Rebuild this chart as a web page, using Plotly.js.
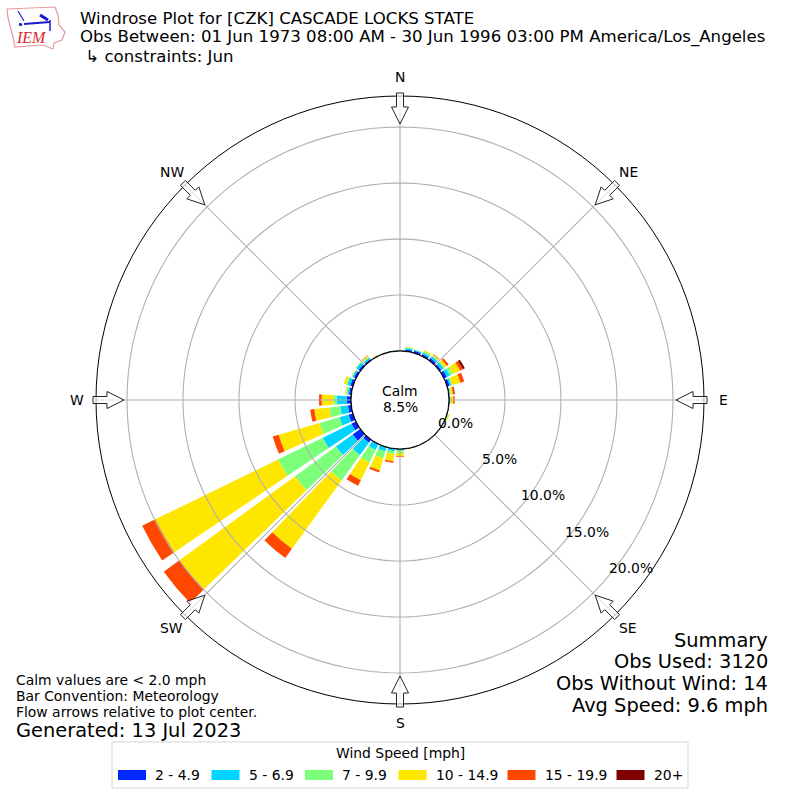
<!DOCTYPE html>
<html><head><meta charset="utf-8">
<script src="https://cdn.plot.ly/plotly-3.0.1.min.js"></script>
<style>html,body{margin:0;padding:0;background:#fff}#c{width:800px;height:800px}</style></head>
<body><div id="c"></div>
<script>
const theta  = [0,10,20,30,40,50,60,70,80,90,100,110,120,130,140,150,160,170,180,190,200,210,220,230,240,250,260,270,280,290,300,310,320,330,340,350];
const s2_5   = [.02,.15,.2,.2,.25,.2,.3,.24,.08,.06,.01,.02,.01,.01,.01,.01,.01,.02,.03,.03,.05,.1,.35,.85,.45,.4,.3,.39,.2,.25,.2,.2,.15,.05,.04,.06];
const s5_7   = [.01,.15,.1,.15,.2,.25,.3,.15,.05,.05,.01,.05,.01,.01,.01,.01,.01,.02,.12,.2,.35,.5,1.35,1.85,2.85,.85,.69,.89,.15,.25,.15,.25,.15,.03,.02,.02];
const s7_10  = [0,.07,.03,.15,.1,.12,.3,.1,.05,.07,.01,.05,0,0,0,0,0,.01,.2,.25,.65,1.25,2.8,4.53,4.44,1.85,.97,.3,.12,.13,.07,.05,.1,.02,.01,.01];
const s10_15 = [0,.03,0,.1,.1,.23,.7,.75,.2,.2,.02,.1,0,0,0,0,0,.01,.3,.65,1.1,1.75,7.55,12.74,12.2,3.8,1.36,1.04,.09,.23,.05,.03,.1,.05,.01,0];
const s15_20 = [0,0,0,0,.05,.2,.27,.35,.12,.13,0,0,0,0,0,0,0,0,.07,.12,.2,.55,1.0,1.73,1.3,.55,.36,.24,0,0,0,0,.05,0,0,0];
const s20up  = [0,0,0,0,0,0,.2,0,.05,0,0,0,0,0,0,0,0,0,0,0,0,0,0,0,0,0,0,0,0,0,0,0,0,0,0,0];
const speedLabels = ['2 - 4.9','5 - 6.9','7 - 9.9','10 - 14.9','15 - 19.9','20+'];
const speedColors = ['#0028ff','#00d4ff','#7cff79','#ffe600','#ff4700','#7f0000'];
const speedSeries = [s2_5,s5_7,s7_10,s10_15,s15_20,s20up];
const compassDirs = ['N','NE','E','SE','S','SW','W','NW'];
const compassDeg  = [0,45,90,135,180,225,270,315];
const ringVals    = [5,10,15,20];
const radialText  = ['0.0%','5.0%','10.0%','15.0%','20.0%'];
const notesLeft   = ['Calm values are < 2.0 mph','Bar Convention: Meteorology','Flow arrows relative to plot center.'];
const summary     = ['Summary','Obs Used: 3120','Obs Without Wind: 14','Avg Speed: 9.6 mph'];

const F='DejaVu Sans', W=800, cx=400, cy=400, R=304, rMax=22.77, hole=49/304;
const px=x=>x/W, py=y=>1-y/W;
const ringTheta=[]; for(let a=0;a<=360;a+=2) ringTheta.push(a);

const traces=speedLabels.map((n,i)=>({type:'barpolar',name:n,theta:theta,r:speedSeries[i],width:8,
  marker:{color:speedColors[i],line:{width:0}},showlegend:false,hoverinfo:'skip'}));
ringVals.forEach(v=>traces.push({type:'scatterpolar',mode:'lines',theta:ringTheta,r:ringTheta.map(()=>v),
  line:{color:'#b0b0b0',width:1.1},showlegend:false,hoverinfo:'skip'}));
compassDeg.forEach(d=>traces.push({type:'scatterpolar',mode:'lines',theta:[d,d],r:[0,rMax],
  line:{color:'#b0b0b0',width:1.1},showlegend:false,hoverinfo:'skip'}));
traces.push({type:'scatterpolar',mode:'lines',theta:ringTheta,r:ringTheta.map(()=>0),
  line:{color:'#000',width:1.2},showlegend:false,hoverinfo:'skip'});

const shapes=[], annotations=[];
function txt(t,x,y,size,anchor,extra){const a=anchor||'left';annotations.push(Object.assign({text:t,x:px(x),y:py(y),xref:'paper',yref:'paper',showarrow:false,
  xanchor:a,yanchor:'middle',xshift:a==='left'?-2:(a==='right'?2:0),font:{family:F,size:size,color:'#000'}},extra||{}));}
function pathOf(pts,close){return pts.map((p,i)=>(i?'L':'M')+px(p[0]).toFixed(5)+','+py(p[1]).toFixed(5)).join(' ')+(close?' Z':'');}

// flow arrows and compass labels
compassDeg.forEach((d,i)=>{
  const a=d*Math.PI/180, ux=Math.sin(a), uy=-Math.cos(a), vx=Math.cos(a), vy=Math.sin(a);
  const prof=[[307,3.5],[293,3.5],[293,8.5],[276,0],[293,-8.5],[293,-3.5],[307,-3.5]];
  shapes.push({type:'path',xref:'paper',yref:'paper',layer:'above',path:pathOf(prof.map(q=>[cx+ux*q[0]+vx*q[1],cy+uy*q[0]+vy*q[1]]),true),
    fillcolor:'rgba(255,255,255,0.65)',line:{color:'#222',width:1}});
  txt(compassDirs[i],cx+ux*323,cy+uy*323,13.9,'center');
});

// radial labels
radialText.forEach((t,i)=>txt(t,455+i*44,423+i*36.2,13.9,'center'));

// header
txt(' ↳ constraints: Jun',80,56,16.6);
txt('Obs Between: 01 Jun 1973 08:00 AM - 30 Jun 1996 03:00 PM America/Los_Angeles',80,37,16.6);
// calm
txt('Calm',400,391,13.9,'center'); txt('8.5%',400,407,13.9,'center');
// notes
notesLeft.forEach((t,i)=>txt(t,16,680+i*16,13.9));
txt('Generated: 13 Jul 2023',16,730,19.4);
summary.forEach((t,i)=>txt(t,768,640+i*21.7,19.4,'right'));

// legend
shapes.push({type:'rect',xref:'paper',yref:'paper',x0:px(112),x1:px(688),y0:py(742),y1:py(788),fillcolor:'#fff',
  line:{color:'#d5d5d5',width:1},layer:'above'});
txt('Wind Speed [mph]',400,753,13.9,'center');
const swatchX=[118,211.5,305,398.5,507.5,616.5];
speedLabels.forEach((n,i)=>{
  shapes.push({type:'rect',xref:'paper',yref:'paper',x0:px(swatchX[i]),x1:px(swatchX[i]+28),y0:py(770),y1:py(780),fillcolor:speedColors[i],line:{width:0},layer:'above'});
  txt(n,swatchX[i]+37,775,13.9);
});

// IEM logo
const red='#d9262c', blue='#1a1ad0';
shapes.push({type:'path',xref:'paper',yref:'paper',layer:'above',line:{color:'#e89a9a',width:1.2},fillcolor:'rgba(0,0,0,0)',
  path:pathOf([[7,9],[55,7],[58,15],[59,25],[65,32],[62,40],[54,43],[53,49],[43,45],[15,47],[13,37],[8,18]],true)});
[[[24,24],[50,22],2.2],[[40,15],[48,20],3],[[18,11],[24,21],1.2],[[50,20],[50,31],1.5],[[22,25],[19,24],2.5]].forEach(l=>{
  shapes.push({type:'path',xref:'paper',yref:'paper',layer:'above',line:{color:blue,width:l[2]},path:pathOf([l[0],l[1]],false)});
});
txt('IEM',16,38,15,'left',{font:{family:'Liberation Serif',size:16,color:red},text:'<i>IEM</i>'});

const layout={
  width:800,height:800,margin:{l:0,r:0,t:0,b:0},paper_bgcolor:'#fff',showlegend:false,
  title:{text:'Windrose Plot for [CZK] CASCADE LOCKS STATE',x:px(80),xanchor:'left',xref:'paper',y:py(18),yanchor:'middle',yref:'paper',
    font:{family:F,size:16.6,color:'#000'}},
  polar:{domain:{x:[px(96),px(704)],y:[py(704),py(96)]},bgcolor:'#fff',hole:hole,barmode:'stack',bargap:0,
    angularaxis:{direction:'clockwise',rotation:90,thetaunit:'degrees',tickmode:'array',tickvals:compassDeg,
      showgrid:false,showline:true,linecolor:'#000',linewidth:1,ticks:'',showticklabels:false},
    radialaxis:{range:[0,rMax],angle:-39,showgrid:false,showline:false,ticks:'',showticklabels:false}},
  shapes:shapes,annotations:annotations
};
Plotly.newPlot('c',traces,layout,{staticPlot:true,displayModeBar:false});
</script></body></html>
